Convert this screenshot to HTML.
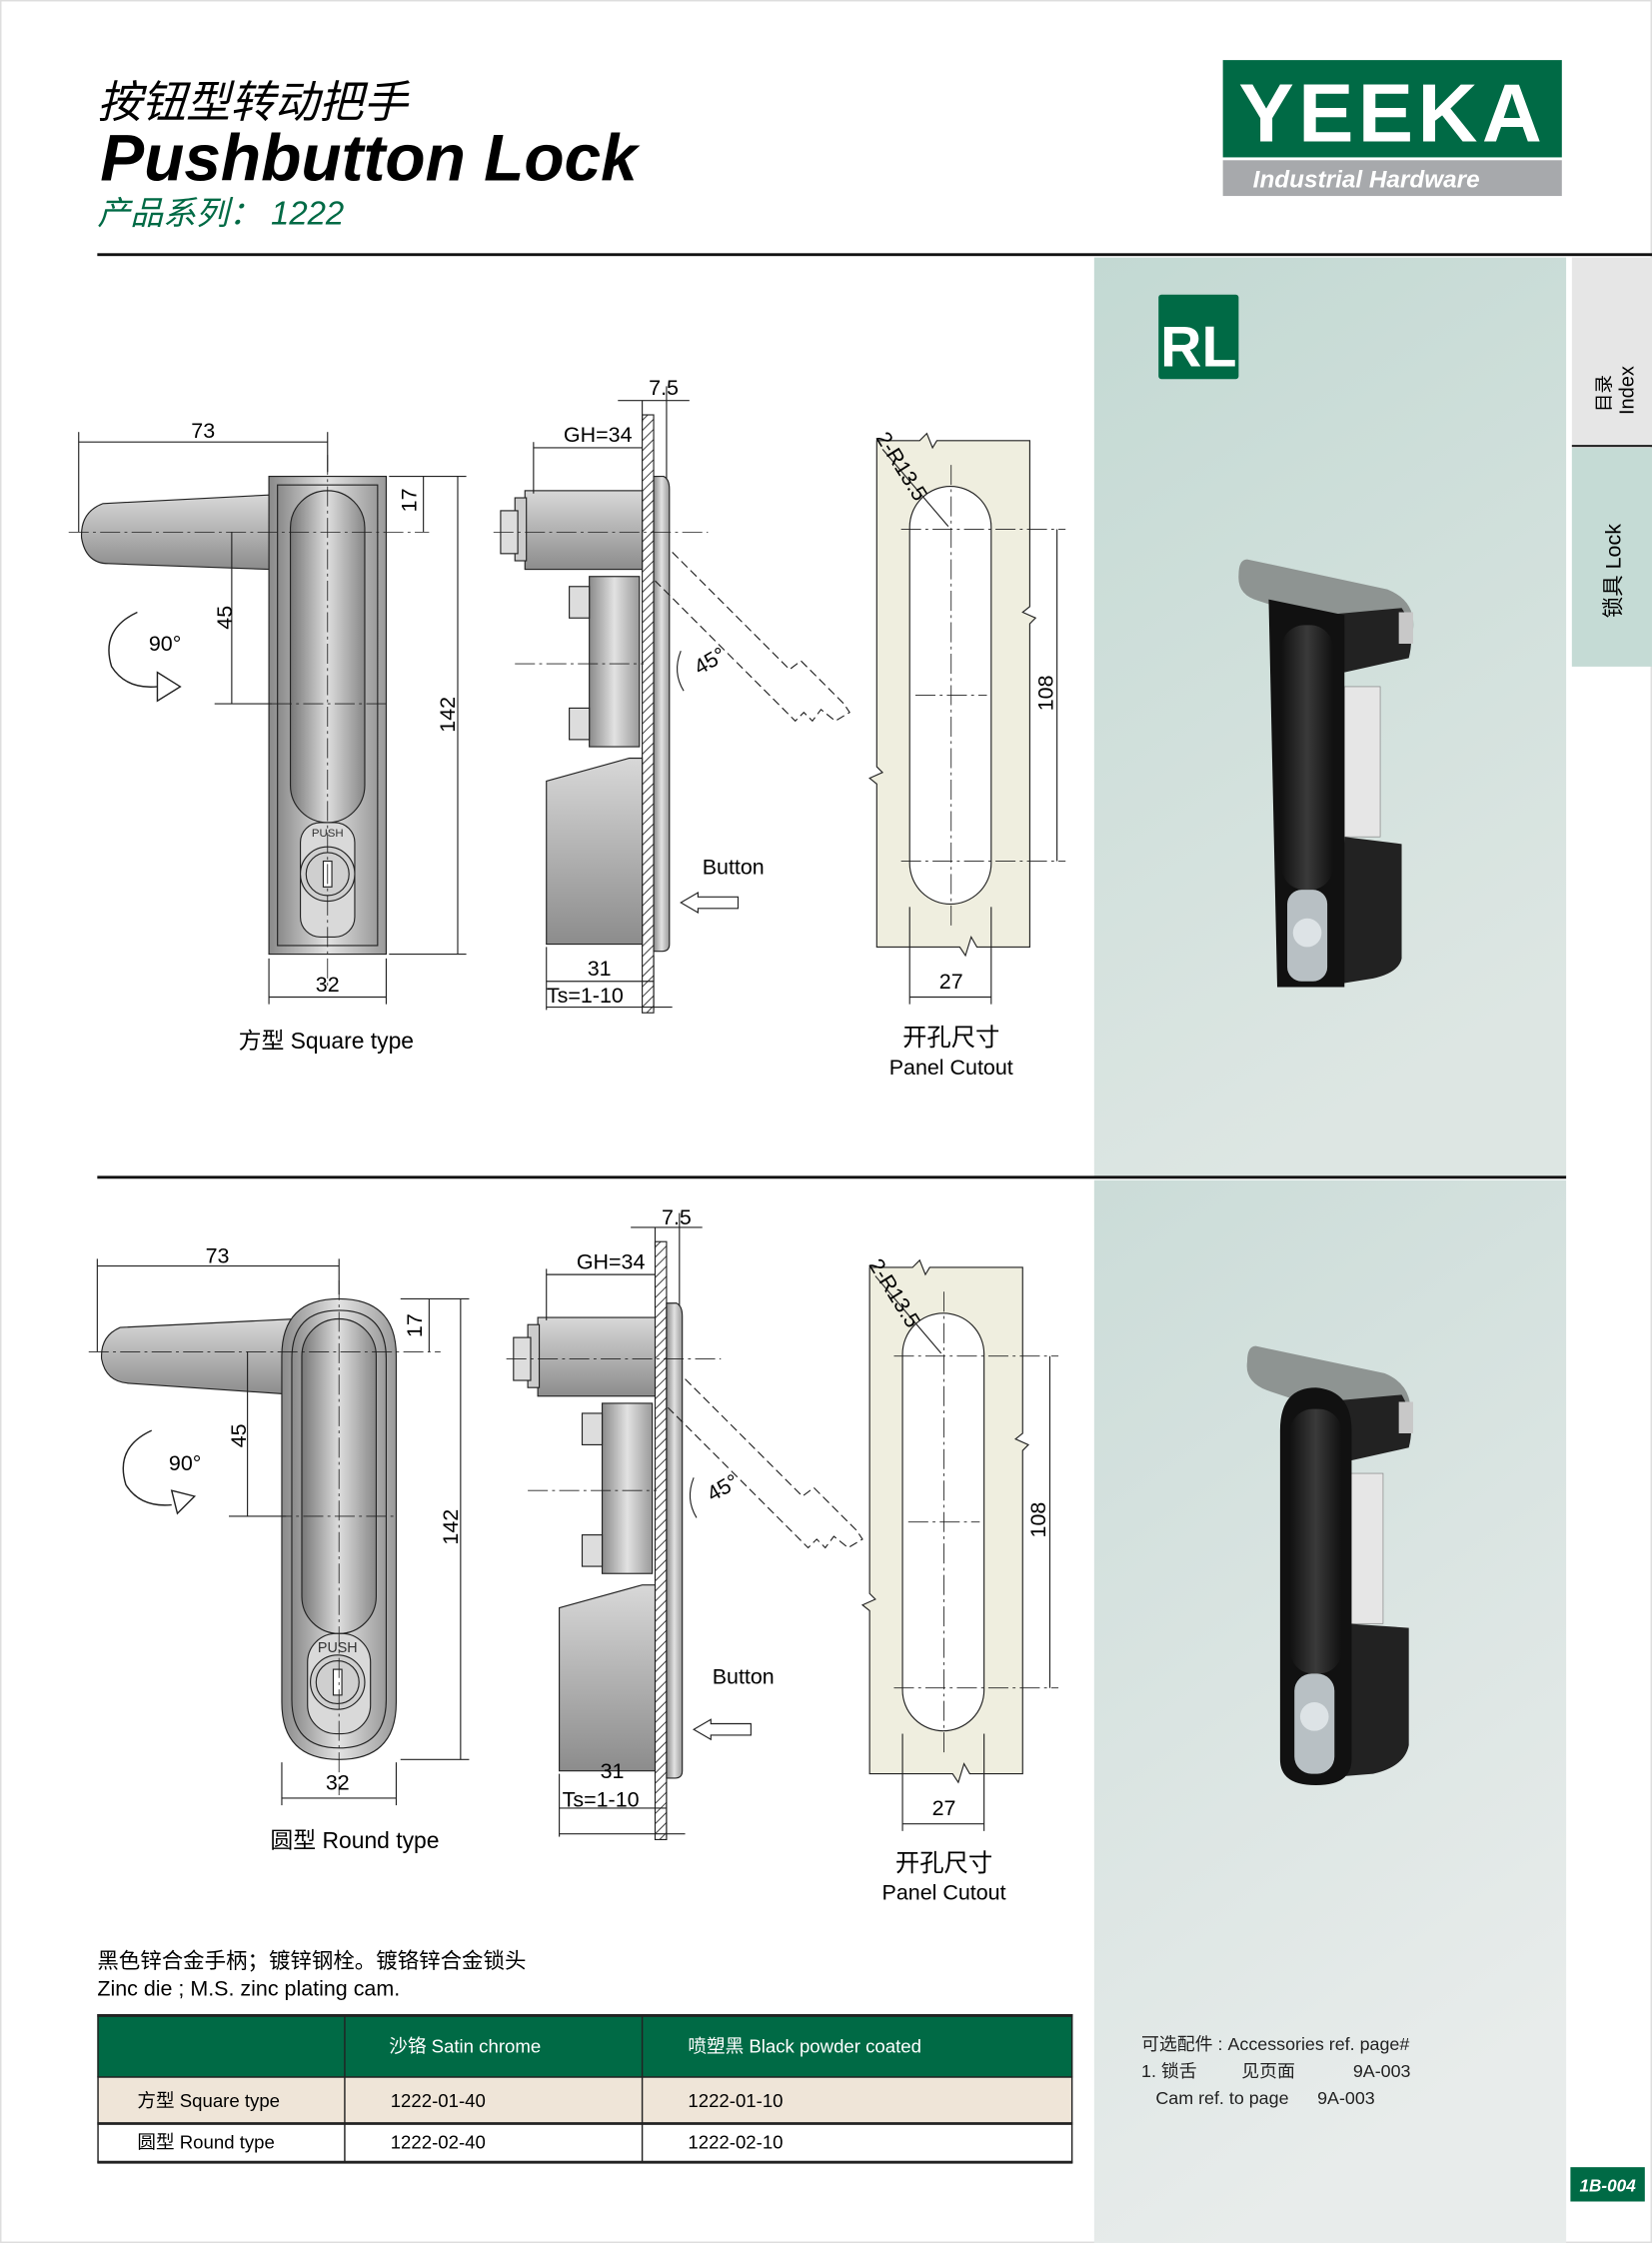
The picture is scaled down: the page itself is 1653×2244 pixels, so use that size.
<!DOCTYPE html>
<html><head><meta charset="utf-8"><style>
html,body{margin:0;padding:0;background:#fff;width:1653px;height:2244px;overflow:hidden}
svg{display:block}
text{font-family:"Liberation Sans Narrow","Liberation Sans","Noto Sans CJK SC",sans-serif}
.cn{font-family:"Liberation Sans","Noto Sans CJK SC",sans-serif}
</style></head><body>
<svg width="1653" height="2244" viewBox="0 0 1155 1568" xmlns="http://www.w3.org/2000/svg">
<defs>
<linearGradient id="metal" x1="0" x2="1" y1="0" y2="0"><stop offset="0" stop-color="#8a8a8a"/><stop offset="0.5" stop-color="#e2e2e2"/><stop offset="1" stop-color="#9a9a9a"/></linearGradient>
<linearGradient id="metalv" x1="0" x2="0" y1="0" y2="1"><stop offset="0" stop-color="#d8d8d8"/><stop offset="1" stop-color="#8c8c8c"/></linearGradient>
<linearGradient id="inner" x1="0" x2="1"><stop offset="0" stop-color="#777"/><stop offset="0.5" stop-color="#ddd"/><stop offset="1" stop-color="#888"/></linearGradient>
<linearGradient id="teal" x1="0" x2="0.3" y1="0" y2="1"><stop offset="0" stop-color="#c3d9d3"/><stop offset="1" stop-color="#dde6e3"/></linearGradient>
<linearGradient id="teal2" x1="0" x2="0.3" y1="0" y2="1"><stop offset="0" stop-color="#cbdcd8"/><stop offset="1" stop-color="#e8eceb"/></linearGradient>
<linearGradient id="blk" x1="0" x2="1"><stop offset="0" stop-color="#111"/><stop offset="0.5" stop-color="#3a3a3a"/><stop offset="1" stop-color="#111"/></linearGradient>
<pattern id="hatch" width="5" height="5" patternUnits="userSpaceOnUse" patternTransform="rotate(45)"><rect width="5" height="5" fill="#fff"/><line x1="0" y1="0" x2="0" y2="5" stroke="#333" stroke-width="1.3"/></pattern>
</defs>
<rect width="1155" height="1568" fill="#fff"/>
<rect x="0.5" y="0.5" width="1154" height="1567" fill="none" stroke="#ddd"/>

<!-- header -->
<text x="68" y="82" font-size="31" class="cn" font-style="italic">按钮型转动把手</text>
<text x="70" y="126" font-size="46" font-weight="bold" font-style="italic" style="font-family:'Liberation Sans',sans-serif">Pushbutton Lock</text>
<text x="68" y="157" font-size="23" fill="#006a45" class="cn" font-style="italic">产品系列： 1222</text>
<rect x="855" y="42" width="237" height="68" fill="#006a45"/>
<text x="866" y="99" font-size="58" font-weight="bold" fill="#fff" style="font-family:'Liberation Sans',sans-serif" textLength="212">YEEKA</text>
<rect x="855" y="112" width="237" height="25" fill="#a7a9ac"/>
<text x="876" y="131" font-size="17" font-weight="bold" font-style="italic" fill="#fff" style="font-family:'Liberation Sans',sans-serif">Industrial Hardware</text>
<rect x="68" y="177" width="1087" height="2" fill="#111"/>

<!-- right panels -->
<rect x="765" y="180" width="330" height="643" fill="url(#teal)"/>
<rect x="765" y="825" width="330" height="743" fill="url(#teal2)"/>
<rect x="68" y="822" width="1027" height="2" fill="#111"/>
<rect x="1099" y="180" width="56" height="131" fill="#e6e6e6"/>
<rect x="1099" y="311" width="56" height="1.5" fill="#222"/>
<rect x="1099" y="313" width="56" height="153" fill="#c5dbd5"/>
<text transform="translate(1126,288) rotate(-90)" font-size="13" class="cn">目录</text>
<text transform="translate(1142,290) rotate(-90)" font-size="14">Index</text>
<text transform="translate(1133,432) rotate(-90)" font-size="15" class="cn">锁具 Lock</text>
<rect x="1098" y="1515" width="52" height="24" fill="#006a45"/>
<text x="1124" y="1532" font-size="12" fill="#fff" font-weight="bold" font-style="italic" text-anchor="middle">1B-004</text>

<rect x="810" y="206" width="56" height="59" rx="2" fill="#006a45"/>
<text x="838" y="256" font-size="40" font-weight="bold" fill="#fff" text-anchor="middle">RL</text>

<!-- product photo top -->
<g>
<path d="M872 391 L970 412 Q990 420 988 440 L940 440 L880 420 Q865 416 866 402 Q866 391 872 391Z" fill="#8e9492"/>
<path d="M925 430 L980 425 Q990 440 985 460 L940 470Z" fill="#222"/>
<rect x="978" y="428" width="10" height="22" fill="#c8c8c8"/>
<rect x="940" y="480" width="25" height="105" fill="#e6e6e6" stroke="#888" stroke-width="0.5"/>
<path d="M940 585 L980 590 L980 670 Q978 680 960 684 L935 688Z" fill="#222"/>
<path d="M887 419 L940 430 L940 690 L893 690Z" fill="#111"/>
<rect x="896" y="437" width="36" height="185" rx="16" fill="url(#blk)"/>
<rect x="900" y="622" width="28" height="64" rx="10" fill="#b8c0c4"/>
<ellipse cx="914" cy="652" rx="10" ry="10" fill="#dde3e6"/>
</g>
<!-- product photo bottom -->
<g>
<path d="M878 941 L968 960 Q988 968 986 990 L940 990 L886 972 Q870 966 872 952 Q872 941 878 941Z" fill="#8e9492"/>
<path d="M925 980 L980 975 Q990 992 985 1012 L940 1022Z" fill="#222"/>
<rect x="978" y="980" width="10" height="22" fill="#c8c8c8"/>
<rect x="942" y="1030" width="25" height="105" fill="#e6e6e6" stroke="#888" stroke-width="0.5"/>
<path d="M942 1135 L985 1138 L985 1220 Q982 1235 960 1240 L935 1242Z" fill="#222"/>
<path d="M895 1000 Q895 970 920 970 Q945 972 945 1000 L945 1230 Q945 1248 920 1248 Q895 1248 895 1230Z" fill="#111"/>
<rect x="902" y="985" width="36" height="185" rx="16" fill="url(#blk)"/>
<rect x="905" y="1170" width="28" height="70" rx="12" fill="#b8c0c4"/>
<ellipse cx="919" cy="1200" rx="10" ry="10" fill="#dde3e6"/>
</g>

<!-- ===== TOP SQUARE FRONT VIEW ===== -->
<g fill="none" stroke="#222" stroke-width="0.8">
<path d="M188 346 L72 352 Q56 358 57 376 Q60 394 76 394 L188 398Z" fill="url(#metalv)"/>
<rect x="188" y="333" width="82" height="334" fill="url(#metal)"/>
<rect x="194" y="339" width="70" height="322" fill="url(#metal)"/>
<rect x="203" y="343" width="52" height="232" rx="26" fill="url(#inner)"/>
<rect x="210" y="575" width="38" height="80" rx="14" fill="#d9d9d9"/>
<circle cx="229" cy="611" r="19" fill="#cfcfcf"/>
<circle cx="229" cy="611" r="15"/>
<rect x="226" y="602" width="6" height="18" fill="#fff"/>
<g stroke-dasharray="14 3 2 3" stroke-width="0.6"><line x1="229" y1="318" x2="229" y2="690"/><line x1="48" y1="372" x2="300" y2="372"/><line x1="190" y1="492" x2="270" y2="492"/></g>
<line x1="55" y1="302" x2="55" y2="372"/><line x1="229" y1="302" x2="229" y2="330"/>
<line x1="55" y1="309" x2="229" y2="309"/>
<line x1="272" y1="333" x2="326" y2="333"/><line x1="272" y1="667" x2="326" y2="667"/>
<line x1="320" y1="333" x2="320" y2="667"/>
<line x1="296" y1="333" x2="296" y2="372"/>
<line x1="162" y1="372" x2="162" y2="492"/><line x1="150" y1="492" x2="190" y2="492"/>
<line x1="188" y1="670" x2="188" y2="702"/><line x1="270" y1="670" x2="270" y2="702"/>
<line x1="188" y1="697" x2="270" y2="697"/>
<path d="M96 428 Q70 440 78 466 Q88 482 110 480" stroke-width="1"/>
<path d="M110 470 L126 480 L110 490Z" fill="#fff" stroke-width="1"/>
</g>
<text x="229" y="585" font-size="8" text-anchor="middle" fill="#333">PUSH</text>
<text x="142" y="306" font-size="15" text-anchor="middle">73</text>
<text transform="translate(291,358) rotate(-90)" font-size="15">17</text>
<text transform="translate(318,512) rotate(-90)" font-size="15">142</text>
<text transform="translate(162,440) rotate(-90)" font-size="15">45</text>
<text x="104" y="455" font-size="15">90°</text>
<text x="229" y="693" font-size="15" text-anchor="middle">32</text>
<text x="228" y="733" font-size="16" text-anchor="middle" class="cn">方型 Square type</text>

<!-- ===== TOP SIDE VIEW ===== -->
<g id="side1" stroke="#222" stroke-width="0.8" fill="none">
<rect x="449" y="290" width="8" height="418" fill="url(#hatch)"/>
<path d="M457 333 L464 333 Q468 335 468 342 L468 660 Q468 665 463 665 L457 665Z" fill="url(#metal)"/>
<rect x="367" y="343" width="82" height="55" fill="url(#metalv)"/>
<rect x="360" y="348" width="8" height="44" fill="#ccc"/>
<rect x="350" y="357" width="12" height="30" fill="#ddd"/>
<rect x="412" y="403" width="35" height="119" fill="url(#metal)"/>
<rect x="398" y="410" width="14" height="22" fill="#ddd"/>
<rect x="398" y="495" width="14" height="22" fill="#ddd"/>
<path d="M382 546 L440 530 L449 530 L449 660 L382 660Z" fill="url(#metalv)"/>
<g stroke-dasharray="14 3 2 3" stroke-width="0.6"><line x1="345" y1="372" x2="495" y2="372"/><line x1="360" y1="464" x2="450" y2="464"/></g>
<g stroke-dasharray="6 3" stroke-width="0.8">
<path d="M470 386 L552 468 L560 462 L590 492 L594 498 L584 504 L574 496 L568 504 L562 498 L556 504 L548 496 L458 406"/>
</g>
<line x1="373" y1="313" x2="449" y2="313"/><line x1="373" y1="309" x2="373" y2="345"/>
<line x1="449" y1="280" x2="449" y2="295"/><line x1="466" y1="270" x2="466" y2="335"/>
<line x1="432" y1="280" x2="482" y2="280"/>
<line x1="382" y1="662" x2="382" y2="706"/><line x1="457" y1="668" x2="457" y2="706"/>
<line x1="382" y1="686" x2="457" y2="686"/><line x1="382" y1="704" x2="470" y2="704"/>
<path d="M478 483 Q470 470 476 455" />
<path d="M516 627 L488 627 L488 624 L476 631 L488 638 L488 635 L516 635Z" fill="#fff"/>
</g>
<text x="464" y="276" font-size="15" text-anchor="middle">7.5</text>
<text x="418" y="309" font-size="15" text-anchor="middle">GH=34</text>
<text transform="translate(489,472) rotate(-30)" font-size="15">45°</text>
<text x="491" y="611" font-size="15">Button</text>
<text x="419" y="682" font-size="15" text-anchor="middle">31</text>
<text x="409" y="701" font-size="15" text-anchor="middle">Ts=1-10</text>

<!-- ===== TOP CUTOUT ===== -->
<g stroke="#222" stroke-width="0.8" fill="none">
<path d="M613 308 L643 308 L648 303 L652 313 L655 308 L720 308 L720 424 L715 428 L724 432 L720 436 L720 662 L683 662 L679 655 L675 668 L671 662 L613 662 L613 548 L608 544 L617 540 L613 536Z" fill="#efeedf"/>
<rect x="636" y="340" width="57" height="292" rx="28.5" fill="#fff"/>
<g stroke-dasharray="14 3 2 3" stroke-width="0.6"><line x1="665" y1="325" x2="665" y2="650"/><line x1="630" y1="370" x2="745" y2="370"/><line x1="630" y1="602" x2="745" y2="602"/><line x1="640" y1="486" x2="690" y2="486"/></g>
<line x1="739" y1="370" x2="739" y2="602"/>
<line x1="636" y1="634" x2="636" y2="702"/><line x1="693" y1="634" x2="693" y2="702"/>
<line x1="636" y1="697" x2="693" y2="697"/>
<line x1="617" y1="314" x2="663" y2="368"/>
</g>
<text transform="translate(612,306) rotate(58)" font-size="15">2-R13.5</text>
<text transform="translate(736,497) rotate(-90)" font-size="15">108</text>
<text x="665" y="691" font-size="15" text-anchor="middle">27</text>
<text x="665" y="731" font-size="17" text-anchor="middle" class="cn">开孔尺寸</text>
<text x="665" y="751" font-size="15" text-anchor="middle">Panel Cutout</text>

<!-- ===== BOTTOM ROUND FRONT VIEW ===== -->
<g fill="none" stroke="#222" stroke-width="0.8">
<path d="M207 922 L84 928 Q70 934 71 950 Q74 966 90 967 L207 975Z" fill="url(#metalv)"/>
<path d="M197 948 Q197 908 237 908 Q277 908 277 948 L277 1190 Q277 1230 237 1230 Q197 1230 197 1190Z" fill="url(#metal)"/>
<path d="M204 950 Q204 916 237 916 Q270 916 270 950 L270 1188 Q270 1222 237 1222 Q204 1222 204 1188Z" fill="url(#metal)"/>
<rect x="211" y="922" width="52" height="220" rx="26" fill="url(#inner)"/>
<rect x="215" y="1142" width="44" height="70" rx="20" fill="#d9d9d9"/>
<circle cx="236" cy="1176" r="19" fill="#cfcfcf"/>
<circle cx="236" cy="1176" r="15"/>
<rect x="233" y="1167" width="6" height="18" fill="#fff"/>
<g stroke-dasharray="14 3 2 3" stroke-width="0.6"><line x1="237" y1="895" x2="237" y2="1255"/><line x1="62" y1="945" x2="308" y2="945"/><line x1="190" y1="1060" x2="275" y2="1060"/></g>
<line x1="68" y1="880" x2="68" y2="945"/><line x1="237" y1="880" x2="237" y2="905"/>
<line x1="68" y1="885" x2="237" y2="885"/>
<line x1="280" y1="908" x2="328" y2="908"/><line x1="280" y1="1230" x2="328" y2="1230"/>
<line x1="322" y1="908" x2="322" y2="1230"/>
<line x1="300" y1="908" x2="300" y2="945"/>
<line x1="173" y1="945" x2="173" y2="1060"/><line x1="160" y1="1060" x2="200" y2="1060"/>
<line x1="197" y1="1232" x2="197" y2="1262"/><line x1="277" y1="1232" x2="277" y2="1262"/>
<line x1="197" y1="1257" x2="277" y2="1257"/>
<path d="M106 1000 Q80 1012 88 1038 Q98 1054 120 1052" stroke-width="1"/>
<path d="M120 1042 L136 1046 L124 1058Z" fill="#fff" stroke-width="1"/>
</g>
<text x="236" y="1155" font-size="10" text-anchor="middle" fill="#333">PUSH</text>
<text x="152" y="883" font-size="15" text-anchor="middle">73</text>
<text transform="translate(295,935) rotate(-90)" font-size="15">17</text>
<text transform="translate(320,1080) rotate(-90)" font-size="15">142</text>
<text transform="translate(172,1012) rotate(-90)" font-size="15">45</text>
<text x="118" y="1028" font-size="15">90°</text>
<text x="236" y="1251" font-size="15" text-anchor="middle">32</text>
<text x="248" y="1292" font-size="16" text-anchor="middle" class="cn">圆型 Round type</text>

<!-- ===== BOTTOM SIDE VIEW ===== -->
<g transform="translate(9,578)" stroke="#222" stroke-width="0.8" fill="none">
<rect x="449" y="290" width="8" height="418" fill="url(#hatch)"/>
<path d="M457 333 L464 333 Q468 335 468 342 L468 660 Q468 665 463 665 L457 665Z" fill="url(#metal)"/>
<rect x="367" y="343" width="82" height="55" fill="url(#metalv)"/>
<rect x="360" y="348" width="8" height="44" fill="#ccc"/>
<rect x="350" y="357" width="12" height="30" fill="#ddd"/>
<rect x="412" y="403" width="35" height="119" fill="url(#metal)"/>
<rect x="398" y="410" width="14" height="22" fill="#ddd"/>
<rect x="398" y="495" width="14" height="22" fill="#ddd"/>
<path d="M382 546 L440 530 L449 530 L449 660 L382 660Z" fill="url(#metalv)"/>
<g stroke-dasharray="14 3 2 3" stroke-width="0.6"><line x1="345" y1="372" x2="495" y2="372"/><line x1="360" y1="464" x2="450" y2="464"/></g>
<g stroke-dasharray="6 3" stroke-width="0.8">
<path d="M470 386 L552 468 L560 462 L590 492 L594 498 L584 504 L574 496 L568 504 L562 498 L556 504 L548 496 L458 406"/>
</g>
<line x1="373" y1="313" x2="449" y2="313"/><line x1="373" y1="309" x2="373" y2="345"/>
<line x1="449" y1="280" x2="449" y2="295"/><line x1="466" y1="270" x2="466" y2="335"/>
<line x1="432" y1="280" x2="482" y2="280"/>
<line x1="382" y1="662" x2="382" y2="706"/><line x1="457" y1="668" x2="457" y2="706"/>
<line x1="382" y1="686" x2="457" y2="686"/><line x1="382" y1="704" x2="470" y2="704"/>
<path d="M478 483 Q470 470 476 455" />
<path d="M516 627 L488 627 L488 624 L476 631 L488 638 L488 635 L516 635Z" fill="#fff"/>
</g>
<text x="473" y="856" font-size="15" text-anchor="middle">7.5</text>
<text x="427" y="887" font-size="15" text-anchor="middle">GH=34</text>
<text transform="translate(498,1050) rotate(-30)" font-size="15">45°</text>
<text x="498" y="1177" font-size="15">Button</text>
<text x="428" y="1243" font-size="15" text-anchor="middle">31</text>
<text x="420" y="1263" font-size="15" text-anchor="middle">Ts=1-10</text>

<!-- ===== BOTTOM CUTOUT ===== -->
<g transform="translate(-5,578)" stroke="#222" stroke-width="0.8" fill="none">
<path d="M613 308 L643 308 L648 303 L652 313 L655 308 L720 308 L720 424 L715 428 L724 432 L720 436 L720 662 L683 662 L679 655 L675 668 L671 662 L613 662 L613 548 L608 544 L617 540 L613 536Z" fill="#efeedf"/>
<rect x="636" y="340" width="57" height="292" rx="28.5" fill="#fff"/>
<g stroke-dasharray="14 3 2 3" stroke-width="0.6"><line x1="665" y1="325" x2="665" y2="650"/><line x1="630" y1="370" x2="745" y2="370"/><line x1="630" y1="602" x2="745" y2="602"/><line x1="640" y1="486" x2="690" y2="486"/></g>
<line x1="739" y1="370" x2="739" y2="602"/>
<line x1="636" y1="634" x2="636" y2="702"/><line x1="693" y1="634" x2="693" y2="702"/>
<line x1="636" y1="697" x2="693" y2="697"/>
<line x1="617" y1="314" x2="663" y2="368"/>
</g>
<text transform="translate(607,884) rotate(58)" font-size="15">2-R13.5</text>
<text transform="translate(731,1075) rotate(-90)" font-size="15">108</text>
<text x="660" y="1269" font-size="15" text-anchor="middle">27</text>
<text x="660" y="1308" font-size="17" text-anchor="middle" class="cn">开孔尺寸</text>
<text x="660" y="1328" font-size="15" text-anchor="middle">Panel Cutout</text>

<!-- notes -->
<text x="68" y="1376" font-size="15" class="cn">黑色锌合金手柄；镀锌钢栓。镀铬锌合金锁头</text>
<text x="68" y="1395" font-size="15" style="font-family:'Liberation Sans',sans-serif">Zinc die ; M.S. zinc plating cam.</text>

<!-- table -->
<rect x="68" y="1408" width="682" height="44" fill="#006a45"/>
<rect x="68" y="1452" width="682" height="32" fill="#efe5d8"/>
<rect x="68" y="1484" width="682" height="28" fill="#fff"/>
<g stroke="#222" fill="none">
<rect x="68.5" y="1408.5" width="681" height="103" stroke-width="1"/>
<line x1="68" y1="1409" x2="750" y2="1409" stroke-width="2"/>
<line x1="68" y1="1452" x2="750" y2="1452" stroke-width="1"/>
<line x1="68" y1="1484.5" x2="750" y2="1484.5" stroke-width="2"/>
<line x1="68" y1="1511.5" x2="750" y2="1511.5" stroke-width="2"/>
<line x1="241" y1="1408" x2="241" y2="1512"/>
<line x1="449" y1="1408" x2="449" y2="1512"/>
</g>
<g font-size="13" class="cn">
<text x="272" y="1435" fill="#fff" class="cn">沙铬 Satin chrome</text>
<text x="481" y="1435" fill="#fff" class="cn">喷塑黑 Black powder coated</text>
<text x="96" y="1473" class="cn">方型 Square type</text>
<text x="273" y="1473" class="cn">1222-01-40</text>
<text x="481" y="1473" class="cn">1222-01-10</text>
<text x="96" y="1502" class="cn">圆型 Round type</text>
<text x="273" y="1502" class="cn">1222-02-40</text>
<text x="481" y="1502" class="cn">1222-02-10</text>
</g>
<g font-size="12.5" fill="#222">
<text x="798" y="1433" class="cn">可选配件 : Accessories ref. page#</text>
<text x="798" y="1452" class="cn">1. 锁舌</text>
<text x="868" y="1452" class="cn">见页面</text>
<text x="946" y="1452">9A-003</text>
<text x="808" y="1471">Cam ref. to page</text>
<text x="921" y="1471">9A-003</text>
</g>
</svg>
</body></html>
